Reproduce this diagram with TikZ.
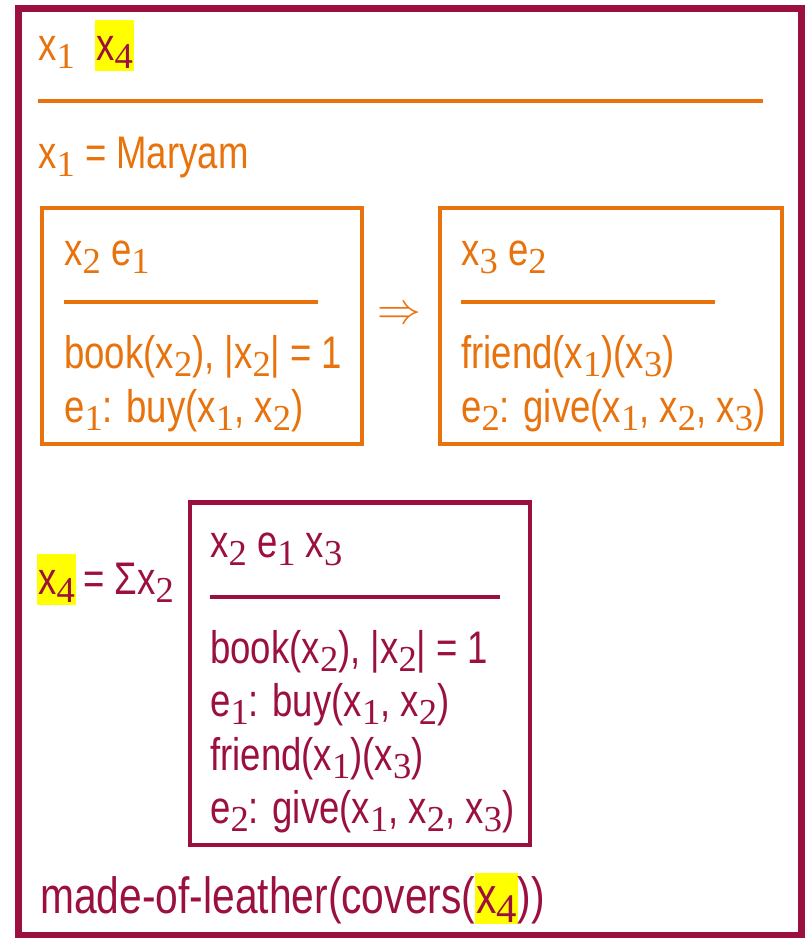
\documentclass[tikz,border=0pt]{standalone}
\usepackage{fontspec}
\setmainfont{Liberation Sans}[FakeStretch=0.8]
\newfontfamily\subfont{Liberation Serif}
\usepackage{graphicx}
\usetikzlibrary{positioning}
\definecolor{DrsMaroon}{HTML}{9B1040}
\definecolor{DrsOrange}{HTML}{E8720C}
\definecolor{DrsYellow}{HTML}{FFFF00}
% subscript index and highlighted variable
\newcommand{\ix}[1]{\raisebox{-0.35ex}{\scalebox{0.8}{\subfont #1}}}
\newcommand{\yellowvar}[1]{{\setlength{\fboxsep}{0.5pt}\colorbox{DrsYellow}{\rule[-6pt]{0pt}{28.5pt}\color{DrsMaroon}#1}}}
\tikzset{
    % Base text style
    basetext/.style={
        inner sep=0pt,
        anchor=base west,
        font=\fontsize{26}{30}\selectfont
    },
    % Orange text
    orangetext/.style={
        basetext,
        text=DrsOrange
    },
    % Maroon text
    maroontext/.style={
        basetext,
        text=DrsMaroon
    },
    % Outer frame
    outerframe/.style={
        draw=DrsMaroon,
        line width=4pt,
        inner sep=0pt,
        minimum width=15.68cm,
        minimum height=18.56cm
    },
    % Orange box
    orangebox/.style={
        draw=DrsOrange,
        line width=2.8pt,
        inner sep=0pt,
        minimum height=4.72cm
    },
    % Maroon box
    maroonbox/.style={
        draw=DrsMaroon,
        line width=2.8pt,
        inner sep=0pt,
        minimum width=6.8cm,
        minimum height=6.86cm
    },
    % Header rules
    orangerule/.style={
        draw=DrsOrange,
        line width=2.2pt
    },
    maroonrule/.style={
        draw=DrsMaroon,
        line width=2.2pt
    }
}
\begin{document}
\begin{tikzpicture}[x=0.02cm, y=-0.02cm]
    \useasboundingbox (0,0) rectangle (805,938);
    \node[outerframe] (frame) at (410,472) {};

    % main universe
    \node[orangetext] (topx1) at (38,60) {x\ix{1}};
    \node[basetext] (topx4) at (95,60) {\yellowvar{x\ix{4}}};
    \draw[orangerule] (38,101) -- (763,101);
    \node[orangetext] (maryam) at (38,168) {x\ix{1} = Maryam};

    % antecedent box
    \node[orangebox, minimum width=6.4cm] (ante) at (202,326) {};
    \node[orangetext] (antehead) at (64,265) {x\ix{2} e\ix{1}};
    \draw[orangerule] (64,302) -- (318,302);
    \node[orangetext] (antebook) at (64,368) {book(x\ix{2}), |x\ix{2}| = 1};
    \node[orangetext] (antebuy) at (64,422) {e\ix{1}: buy(x\ix{1}, x\ix{2})};

    \node[orangetext, anchor=center, font=\fontsize{23}{26}\selectfont] (impl) at (399,315) {$\Rightarrow$};

    % consequent box
    \node[orangebox, minimum width=6.84cm] (cons) at (611,326) {};
    \node[orangetext] (conshead) at (461,265) {x\ix{3} e\ix{2}};
    \draw[orangerule] (461,302) -- (715,302);
    \node[orangetext] (consfriend) at (461,368) {friend(x\ix{1})(x\ix{3})};
    \node[orangetext] (consgive) at (461,422) {e\ix{2}: give(x\ix{1}, x\ix{2}, x\ix{3})};

    % sum
    \node[basetext] (sumx4) at (37,594) {\yellowvar{x\ix{4}}};
    \node[maroontext] (sumeq) at (83,594) {= \char"03A3x\ix{2}};
    \node[maroonbox] (sumbox) at (360,673.5) {};
    \node[maroontext] (sumhead) at (210,557) {x\ix{2} e\ix{1} x\ix{3}};
    \draw[maroonrule] (210,597) -- (500,597);
    \node[maroontext] (sumbook) at (210,663) {book(x\ix{2}), |x\ix{2}| = 1};
    \node[maroontext] (sumbuy) at (210,716) {e\ix{1}: buy(x\ix{1}, x\ix{2})};
    \node[maroontext] (sumfriend) at (210,770) {friend(x\ix{1})(x\ix{3})};
    \node[maroontext] (sumgive) at (210,823) {e\ix{2}: give(x\ix{1}, x\ix{2}, x\ix{3})};

    \node[maroontext, font=\fontsize{29}{33}\selectfont] (leather) at (40,913)
        {made-of-leather(covers(\yellowvar{x\ix{4}}))};
\end{tikzpicture}
\end{document}
